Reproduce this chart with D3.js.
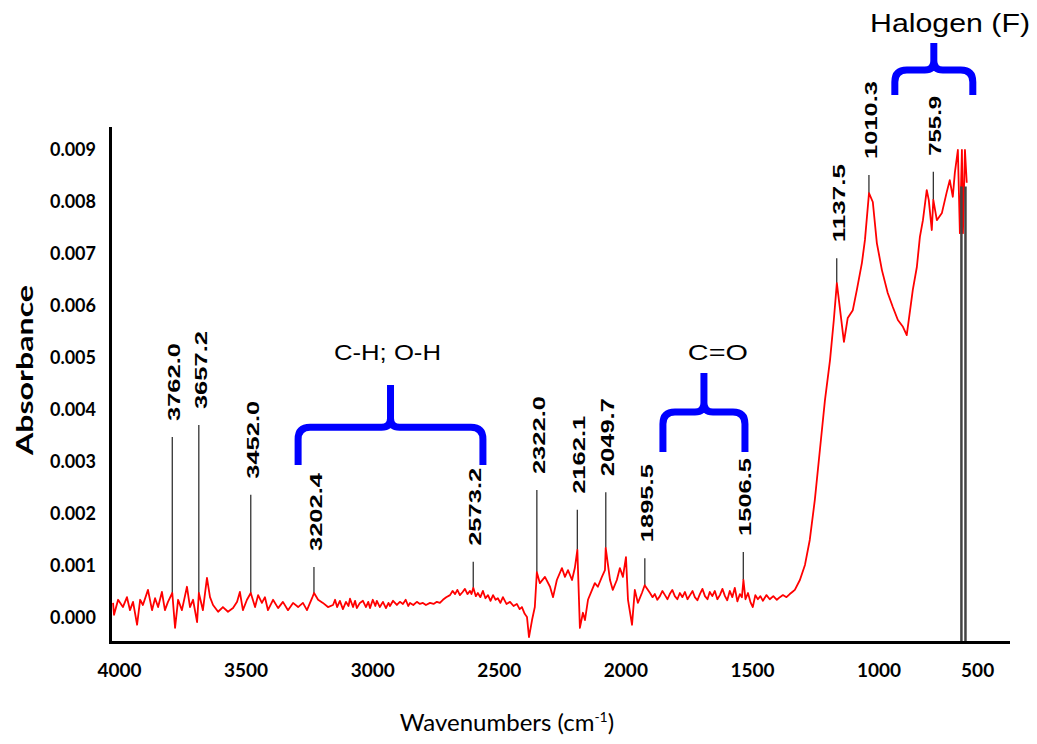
<!DOCTYPE html>
<html lang="en">
<head>
<meta charset="UTF-8">
<title>FTIR absorbance spectrum</title>
<script src="https://d3js.org/d3.v7.min.js"></script>
<style>
  body { margin: 0; background: #fff; }
</style>
</head>
<body>
<svg width="1037" height="744"></svg>
<script>
// spectrum (wavenumber in cm-1, absorbance)
const wavenumber = [
  3996, 3992, 3976, 3957, 3941, 3929, 3917, 3901, 3889, 3878, 3858, 3842, 3830, 3818, 3803, 3791,
  3779, 3762, 3751, 3739, 3724, 3704, 3692, 3680, 3664, 3657, 3641, 3625, 3613, 3601, 3581, 3562,
  3542, 3522, 3506, 3495, 3483, 3467, 3452, 3435, 3423, 3408, 3396, 3384, 3364, 3344, 3325, 3305,
  3285, 3265, 3246, 3230, 3210, 3202, 3186, 3167, 3147, 3127,
  3119, 3111, 3100, 3088, 3076, 3066, 3060, 3048, 3040, 3033, 3021, 3009, 2997, 2988, 2981, 2970,
  2960, 2954, 2942, 2930, 2918, 2908, 2902, 2890, 2875, 2863, 2851, 2840, 2830, 2823, 2810, 2796,
  2784, 2772, 2760, 2744, 2730, 2717, 2705, 2693, 2680, 2665, 2655, 2645, 2636, 2626, 2615, 2606,
  2596, 2586, 2580, 2573, 2563, 2555, 2545, 2535, 2525, 2515, 2505, 2495, 2485, 2476, 2466, 2456,
  2442, 2428, 2414, 2401, 2390, 2381, 2370, 2361,
  2353, 2341, 2330, 2322, 2310, 2290, 2270, 2258, 2243, 2223, 2211, 2199, 2183, 2172, 2162,
  2152, 2140, 2132, 2120, 2104, 2093, 2081, 2065, 2053, 2050, 2033, 2022, 2006, 1994, 1982, 1970,
  1962, 1946, 1935, 1923, 1907, 1896,
  1875, 1865, 1856, 1846, 1836, 1826, 1816, 1806, 1797, 1787, 1777, 1767, 1757, 1747, 1737, 1727,
  1717, 1707, 1698, 1688, 1678, 1668, 1658, 1648, 1639, 1629, 1619, 1609, 1599, 1589, 1579, 1570,
  1560, 1550, 1540, 1530, 1520, 1512, 1506, 1498, 1488, 1478, 1469, 1459, 1449, 1439, 1429, 1415,
  1402, 1388, 1374, 1362, 1350, 1336, 1323, 1313, 1303,
  1283, 1263, 1244, 1224, 1204, 1184, 1164, 1149, 1137, 1109, 1094, 1074, 1058,
  1038, 1026, 1010, 995, 979, 959, 936, 916, 896, 876, 861, 853, 837, 821, 809, 797,
  782, 774, 762, 756, 742, 722, 703, 691, 679, 671, 659, 651, 643, 639, 631, 624
];
const absorbance = [
  0.00029, 0.00006, 0.00035, 0.00021, 0.00040, 0.00015, 0.00031, -0.00013, 0.00035, 0.00025, 0.00054, 0.00015, 0.00038, 0.00021, 0.00050, 0.00015,
  0.00031, 0.00048, -0.00019, 0.00035, 0.00015, 0.00060, 0.00021, 0.00035, -0.00008, 0.00048, 0.00015, 0.00077, 0.00040, 0.00025, 0.00012, 0.00021,
  0.00012, 0.00019, 0.00031, 0.00050, 0.00015, 0.00035, 0.00048, 0.00021, 0.00044, 0.00029, 0.00040, 0.00015, 0.00035, 0.00019, 0.00031, 0.00015,
  0.00029, 0.00021, 0.00029, 0.00015, 0.00038, 0.00048, 0.00035, 0.00029, 0.00021, 0.00025,
  0.00035, 0.00021, 0.00033, 0.00017, 0.00031, 0.00023, 0.00037, 0.00021, 0.00033, 0.00019, 0.00029, 0.00033, 0.00021, 0.00031, 0.00019, 0.00035,
  0.00023, 0.00033, 0.00021, 0.00031, 0.00019, 0.00029, 0.00023, 0.00033, 0.00025, 0.00031, 0.00027, 0.00035, 0.00023, 0.00029, 0.00025, 0.00031,
  0.00027, 0.00029, 0.00025, 0.00029, 0.00027, 0.00031, 0.00029, 0.00035, 0.00040, 0.00044, 0.00052, 0.00046, 0.00054, 0.00044, 0.00050, 0.00056,
  0.00046, 0.00052, 0.00046, 0.00058, 0.00042, 0.00048, 0.00040, 0.00052, 0.00038, 0.00044, 0.00033, 0.00044, 0.00035, 0.00038, 0.00029, 0.00040,
  0.00027, 0.00031, 0.00023, 0.00027, 0.00017, 0.00021, 0.00008, 0.00002,
  -0.00037, -0.00004, 0.00021, 0.00088, 0.00067, 0.00079, 0.00060, 0.00040, 0.00073, 0.00096, 0.00079, 0.00092, 0.00073, 0.00096, 0.00131,
  -0.00019, 0.00010, -0.00004, 0.00035, 0.00054, 0.00067, 0.00060, 0.00079, 0.00092, 0.00135, 0.00073, 0.00054, 0.00073, 0.00096, 0.00079, 0.00117,
  0.00035, -0.00013, 0.00054, 0.00029, 0.00048, 0.00063,
  0.00048, 0.00040, 0.00046, 0.00035, 0.00042, 0.00052, 0.00044, 0.00036, 0.00046, 0.00054, 0.00042, 0.00036, 0.00048, 0.00040, 0.00050, 0.00036,
  0.00044, 0.00052, 0.00040, 0.00034, 0.00046, 0.00056, 0.00042, 0.00036, 0.00050, 0.00042, 0.00052, 0.00036, 0.00044, 0.00056, 0.00042, 0.00034,
  0.00052, 0.00040, 0.00058, 0.00032, 0.00046, 0.00040, 0.00073, 0.00036, 0.00048, 0.00030, 0.00021, 0.00044, 0.00036, 0.00042, 0.00033, 0.00044,
  0.00036, 0.00042, 0.00035, 0.00040, 0.00044, 0.00040, 0.00046, 0.00050, 0.00054,
  0.00073, 0.00102, 0.00150, 0.00227, 0.00323, 0.00419, 0.00496, 0.00573, 0.00644, 0.00531, 0.00577, 0.00592, 0.00631,
  0.00683, 0.00727, 0.00817, 0.00800, 0.00721, 0.00669, 0.00625, 0.00598, 0.00573, 0.00560, 0.00544, 0.00573, 0.00631, 0.00675, 0.00733, 0.00765,
  0.00823, 0.00804, 0.00746, 0.00804, 0.00765, 0.00779, 0.00819, 0.00842, 0.00810, 0.00856, 0.00900, 0.00740, 0.00900, 0.00740, 0.00900, 0.00837
];

// labelled peaks and how high their marker lines reach
const peakWn = [3762.0, 3657.2, 3452.0, 3202.4, 2573.2, 2322.0, 2162.1, 2049.7, 1895.5, 1506.5, 1137.5, 1010.3, 755.9];
const peakTop = [0.00348, 0.00371, 0.00237, 0.00098, 0.00108, 0.00246, 0.00208, 0.00242, 0.00115, 0.00127, 0.00692, 0.00852, 0.00858];

// functional group brackets
const groupLabels = ["C-H; O-H", "C=O", "Halogen (F)"];
const groupFrom = [3265, 1824, 908];
const groupTo = [2535, 1500, 600];

const xTicks = [4000, 3500, 3000, 2500, 2000, 1500, 1000, 500];
const yTicks = [0, 0.001, 0.002, 0.003, 0.004, 0.005, 0.006, 0.007, 0.008, 0.009];

// the two dark drop lines at the low wavenumber end
const dropLines = [645, 629];

const svg = d3.select("svg");
svg.append("rect").attr("width", 1037).attr("height", 744).attr("fill", "#fff");

const x = d3.scaleLinear().domain([4008, 461]).range([110, 1008]);
const y = d3.scaleLinear().domain([-0.000462, 0.009423]).range([642, 128]);

const spectrum = wavenumber.map((w, i) => ({ w: w, a: absorbance[i] }));

// peak marker lines
peakWn.forEach((wn, i) => {
    const p = d3.least(spectrum, d => Math.abs(d.w - wn));
    svg.append("line")
        .attr("x1", x(wn)).attr("x2", x(wn))
        .attr("y1", y(p.a)).attr("y2", y(peakTop[i]))
        .attr("stroke", "#333")
        .attr("stroke-width", 1.3);

    const label = wn.toFixed(1);
    const big = wn === 2049.7;
    svg.append("text")
        .attr("transform", `translate(${x(wn) + 2},${y(peakTop[i]) - 16}) rotate(-90)`)
        .attr("dy", "0.36em")
        .attr("font-family", "'Liberation Sans', Arial, sans-serif")
        .attr("font-weight", "bold")
        .attr("font-size", big ? 18 : 17)
        .attr("textLength", label.length === 5 ? 60 : 78)
        .attr("lengthAdjust", "spacingAndGlyphs")
        .attr("fill", "#000")
        .text(label);
});

// spectrum
const line = d3.line().x(d => x(d.w)).y(d => y(d.a));
svg.append("path")
    .datum(spectrum)
    .attr("d", line)
    .attr("fill", "none")
    .attr("stroke", "#ff0000")
    .attr("stroke-width", 1.8)
    .attr("stroke-linejoin", "round");

dropLines.forEach(wn => {
    svg.append("line")
        .attr("x1", x(wn)).attr("x2", x(wn))
        .attr("y1", y(0.00830)).attr("y2", y.range()[0])
        .attr("stroke", "#444")
        .attr("stroke-width", 2.5);
});

// axes
const xAxis = svg.append("g")
    .attr("transform", "translate(0,642)")
    .call(d3.axisBottom(x).tickValues(xTicks).tickSize(0).tickPadding(22).tickFormat(d3.format("d")));
xAxis.selectAll("text")
    .attr("dx", d => d === 500 ? -21 : 7)
    .attr("font-family", "Lato, sans-serif")
    .attr("font-weight", "bold")
    .attr("font-size", 19)
    .attr("fill", "#000");

const yAxis = svg.append("g")
    .attr("transform", "translate(110,0)")
    .call(d3.axisLeft(y).tickValues(yTicks).tickSize(0).tickPadding(14).tickFormat(d3.format(".3f")));
yAxis.selectAll("text")
    .attr("font-family", "Lato, sans-serif")
    .attr("font-weight", "bold")
    .attr("font-size", 18)
    .attr("fill", "#000");

svg.selectAll(".domain")
    .attr("stroke", "#000")
    .attr("stroke-width", 3)
    .attr("stroke-linecap", "square");

// axis titles
svg.append("text")
    .attr("transform", "translate(25,370) rotate(-90)")
    .attr("dy", "0.35em")
    .attr("text-anchor", "middle")
    .attr("font-family", "Lato, sans-serif")
    .attr("font-weight", "bold")
    .attr("font-size", 22)
    .attr("textLength", 170)
    .attr("lengthAdjust", "spacingAndGlyphs")
    .text("Absorbance");

const xTitle = svg.append("text")
    .attr("x", 507).attr("y", 731)
    .attr("text-anchor", "middle")
    .attr("font-family", "Lato, sans-serif")
    .attr("font-size", 24);
xTitle.append("tspan").text("Wavenumbers (cm");
xTitle.append("tspan").attr("font-size", 14).attr("dy", -9).text("-1");
xTitle.append("tspan").attr("dy", 9).text(")");

// brackets: leg bottom, bar, tip and label baseline levels (absorbance units)
const braceLevels = [
    [0.00294, 0.00367, 0.00448, 0.00496],
    [0.00319, 0.00396, 0.00471, 0.00496],
    [0.01006, 0.01054, 0.01106, 0.01127]
];
const labelWn = [2912, 1607, 690];
const labelSize = [22, 22, 25];
const labelLength = [107, 60, 160];

function bracePath(x1, x2, yLeg, yBar, yTip) {
    const r = 12, xc = (x1 + x2) / 2, t = 9;
    return `M${x1},${yLeg} V${yBar + r} Q${x1},${yBar} ${x1 + r},${yBar} H${xc - t} ` +
        `Q${xc},${yBar} ${xc},${yBar - t} V${yTip} ` +
        `M${xc},${yBar - t} Q${xc},${yBar} ${xc + t},${yBar} H${x2 - r} ` +
        `Q${x2},${yBar} ${x2},${yBar + r} V${yLeg}`;
}

groupLabels.forEach((g, i) => {
    const lv = braceLevels[i];
    svg.append("path")
        .attr("d", bracePath(x(groupFrom[i]), x(groupTo[i]), y(lv[0]), y(lv[1]), y(lv[2])))
        .attr("fill", "none")
        .attr("stroke", "#0000ff")
        .attr("stroke-width", 7)
        .attr("stroke-linejoin", "round");
    svg.append("text")
        .attr("x", x(labelWn[i]))
        .attr("y", y(lv[3]))
        .attr("text-anchor", "middle")
        .attr("font-family", "'Liberation Sans', Arial, sans-serif")
        .attr("font-size", labelSize[i])
        .attr("textLength", labelLength[i])
        .attr("lengthAdjust", "spacingAndGlyphs")
        .text(g);
});
</script>
</body>
</html>
